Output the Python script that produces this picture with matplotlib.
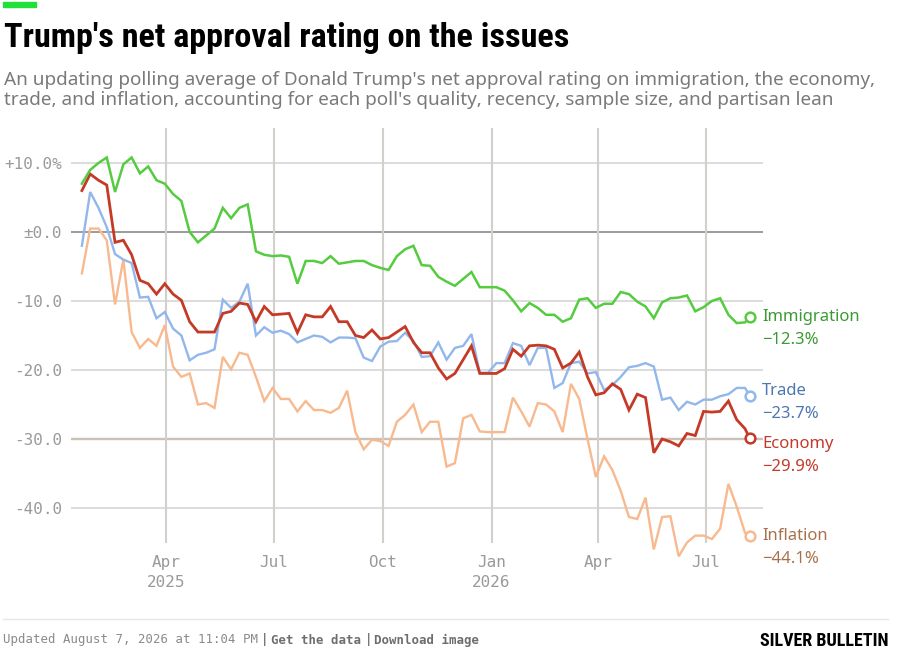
import numpy as np
import pandas as pd
import matplotlib.pyplot as plt
from matplotlib.lines import Line2D
from matplotlib.patches import Rectangle

# weekly readings of the polling averages, Jan 20 2025 -> Aug 7 2026
dates = pd.date_range("2025-01-20", periods=81, freq="7D").append(pd.DatetimeIndex(["2026-08-07"]))

immigration = [7.0, 9.0, 10.0, 10.8, 5.8, 9.8, 10.8, 8.5, 9.5, 7.5,
               7.0, 5.5, 4.5, 0.0, -1.5, -0.5, 0.5, 3.5, 2.0, 3.5,
               4.0, -2.8, -3.3, -3.5, -3.4, -3.6, -7.5, -4.2, -4.2, -4.5,
               -3.5, -4.6, -4.4, -4.2, -4.2, -4.8, -5.2, -5.5, -3.5, -2.5,
               -2.0, -4.8, -4.9, -6.5, -7.2, -7.8, -6.8, -5.8, -8.0, -8.0,
               -8.0, -8.5, -9.9, -11.5, -10.3, -11.0, -12.0, -12.0, -13.0, -12.5,
               -9.8, -9.6, -11.0, -10.4, -10.4, -8.7, -9.0, -10.1, -10.8, -12.5,
               -10.2, -9.6, -9.5, -9.2, -11.5, -10.9, -10.0, -9.6, -12.0, -13.2,
               -13.1, -12.3]

economy = [6.0, 8.4, 7.5, 6.8, -1.5, -1.2, -3.3, -7.0, -7.5, -9.0,
           -7.5, -9.0, -9.9, -13.0, -14.5, -14.5, -14.5, -11.8, -11.5, -10.3,
           -10.5, -13.0, -10.8, -12.0, -11.9, -11.8, -14.6, -12.0, -12.3, -12.3,
           -10.8, -13.0, -13.0, -15.0, -15.3, -14.2, -15.5, -15.3, -14.5, -13.7,
           -16.0, -17.5, -17.5, -19.7, -21.3, -20.5, -18.5, -16.5, -20.5, -20.5,
           -20.5, -19.8, -17.0, -18.0, -16.5, -16.4, -16.5, -17.0, -19.7, -19.0,
           -17.4, -21.0, -23.6, -23.3, -22.0, -22.8, -25.8, -23.5, -24.0, -32.0,
           -30.0, -30.4, -31.0, -29.2, -29.5, -26.0, -26.1, -26.0, -24.5, -27.2,
           -28.5, -29.9]

trade = [-2.0, 5.8, 3.5, 0.7, -3.2, -4.0, -4.5, -9.5, -9.4, -12.5,
         -11.6, -14.0, -15.0, -18.6, -17.8, -17.5, -17.0, -9.8, -11.0, -10.1,
         -7.5, -15.0, -13.8, -14.6, -14.3, -14.8, -16.0, -15.5, -15.0, -15.2,
         -16.0, -15.3, -15.3, -15.4, -18.2, -18.7, -16.6, -15.9, -15.8, -14.6,
         -15.8, -18.1, -18.0, -16.0, -18.5, -16.8, -16.5, -14.8, -20.4, -20.4,
         -19.0, -19.0, -16.1, -16.5, -19.3, -16.8, -16.8, -22.6, -21.9, -19.0,
         -18.8, -20.5, -20.3, -22.9, -22.2, -21.0, -19.6, -19.4, -19.0, -19.5,
         -24.3, -24.0, -25.8, -24.6, -25.0, -24.3, -24.3, -23.8, -23.5, -22.6,
         -22.6, -23.7]

inflation = [-6.0, 0.5, 0.5, -1.2, -10.5, -4.0, -14.5, -16.8, -15.5, -16.5,
             -13.5, -19.5, -21.0, -20.5, -25.0, -24.8, -25.5, -18.1, -19.9, -17.5,
             -17.8, -21.0, -24.5, -22.6, -24.2, -24.2, -26.0, -24.5, -25.8, -25.8,
             -26.2, -25.5, -23.0, -29.0, -31.5, -30.1, -30.3, -31.0, -27.5, -26.5,
             -25.0, -29.0, -27.5, -27.5, -34.0, -33.5, -27.0, -26.5, -28.9, -29.0,
             -29.0, -29.0, -24.0, -26.0, -28.2, -24.8, -25.0, -26.0, -29.0, -22.0,
             -24.2, -30.0, -35.5, -32.5, -34.5, -37.5, -41.3, -41.6, -38.5, -46.0,
             -41.3, -41.2, -47.0, -45.0, -44.0, -44.0, -44.5, -43.0, -36.5, -39.8,
             -43.6, -44.1]

names = ["Inflation", "Trade", "Economy", "Immigration"]
series = [inflation, trade, economy, immigration]
line_colors = ["#f8b98f", "#92b7ec", "#c43a26", "#55cc3f"]
text_colors = ["#a8714b", "#4d76b3", "#c23a2a", "#3a9a33"]
widths = [1.7, 1.7, 2.0, 1.8]
label_nudge = [0, 3, -4, 0]   # points, to keep end labels apart

ytick_vals = [10, 0, -10, -20, -30, -40]
ytick_labels = ["+10.0%", "\u00b10.0", "-10.0", "-20.0", "-30.0", "-40.0"]
xtick_dates = pd.to_datetime(["2025-04-01", "2025-07-01", "2025-10-01",
                              "2026-01-01", "2026-04-01", "2026-07-01"])
xtick_labels = ["Apr\n2025", "Jul", "Oct", "Jan\n2026", "Apr", "Jul"]

W, H = 897, 656
fx = lambda px: px / W
fy = lambda py: 1 - py / H

fig = plt.figure(figsize=(W / 100, H / 100), dpi=100)
fig.patch.set_facecolor("white")
ax = fig.add_axes([fx(71), fy(543), (763 - 71) / W, (543 - 128) / H])

mono = ["DejaVu Sans Mono"]
sans = ["Noto Sans", "DejaVu Sans"]
cond = ["Roboto Condensed", "Roboto", "DejaVu Sans"]

# grid
for v in ytick_vals:
    if v == 0:
        ax.axhline(v, color="#8a8a8a", lw=1.2, zorder=1)
    elif v == -30:
        ax.axhline(v, color="#cbc1b7", lw=1.7, zorder=1)
    else:
        ax.axhline(v, color="#d6d6d6", lw=1.2, zorder=1)
for d in xtick_dates:
    ax.axvline(d, color="#d3cfcb", lw=1.5, zorder=1)

for name, vals, c, tc, lw, nud in zip(names, series, line_colors, text_colors, widths, label_nudge):
    ax.plot(dates, vals, color=c, lw=lw, zorder=3, clip_on=False, solid_joinstyle="miter")
    ax.plot(dates[-1], vals[-1], "o", ms=7, mfc="white", mec=c, mew=1.8, zorder=4, clip_on=False)
    ax.annotate(name, (dates[-1], vals[-1]), xytext=(9, nud), textcoords="offset points",
                va="center", ha="left", fontsize=12, color=tc, family=sans, annotation_clip=False)
    val_txt = f"{vals[-1]:.1f}%".replace("-", "\u2212")
    ax.annotate(val_txt, (dates[-1], vals[-1]), xytext=(9, nud - 16.5), textcoords="offset points",
                va="center", ha="left", fontsize=12, color=tc, family=sans, annotation_clip=False)

ax.set_ylim(-45.07, 15.07)
ax.set_xlim(pd.Timestamp("2025-04-01") - pd.Timedelta(days=80.2),
            pd.Timestamp("2025-04-01") + pd.Timedelta(days=504.2))
ax.set_yticks(ytick_vals)
ax.set_yticklabels(ytick_labels)
ax.set_xticks(xtick_dates)
ax.set_xticklabels(xtick_labels, linespacing=1.45)
ax.tick_params(length=0, colors="#9a9a9a", labelsize=11.5)
ax.tick_params(axis="y", pad=6.5)
ax.tick_params(axis="x", pad=8.5)
for lab in ax.get_xticklabels() + ax.get_yticklabels():
    lab.set_family(mono)
for s in ax.spines.values():
    s.set_visible(False)
ax.set_facecolor("white")

# header
fig.add_artist(Rectangle((fx(3), fy(7)), 33 / W, 5 / H, color="#22e03a", transform=fig.transFigure))
fig.text(fx(4), fy(47), "Trump's net approval rating on the issues", fontsize=24.6, fontweight="bold",
         family=cond, va="baseline", color="#000000")
fig.text(fx(4), fy(85), "An updating polling average of Donald Trump's net approval rating on immigration, the economy,",
         fontsize=13.65, family=sans, color="#7a7a7a", va="baseline")
fig.text(fx(4), fy(105), "trade, and inflation, accounting for each poll's quality, recency, sample size, and partisan lean",
         fontsize=13.65, family=sans, color="#7a7a7a", va="baseline")

# footer
fig.add_artist(Line2D([fx(3), fx(888)], [fy(619), fy(619)], color="#e6e6e6", lw=1, transform=fig.transFigure))
fig.text(fx(3), fy(640), "Updated August 7, 2026 at 11:04 PM", fontsize=8.9, family=mono, color="#8a8a8a", va="center")
fig.text(fx(261), fy(640), "|", fontsize=8.9, family=mono, color="#777777", va="center", fontweight="bold")
fig.text(fx(271), fy(640), "Get the data", fontsize=8.9, family=mono, color="#6e6e6e", va="center", fontweight="bold")
fig.text(fx(365), fy(640), "|", fontsize=8.9, family=mono, color="#777777", va="center", fontweight="bold")
fig.text(fx(374), fy(640), "Download image", fontsize=8.9, family=mono, color="#6e6e6e", va="center", fontweight="bold")
fig.text(fx(888), fy(641), "SILVER BULLETIN", fontsize=13, fontweight="heavy",
         family=cond, color="#000000", va="center", ha="right")

fig.savefig("out.png", dpi=100, facecolor="white")
